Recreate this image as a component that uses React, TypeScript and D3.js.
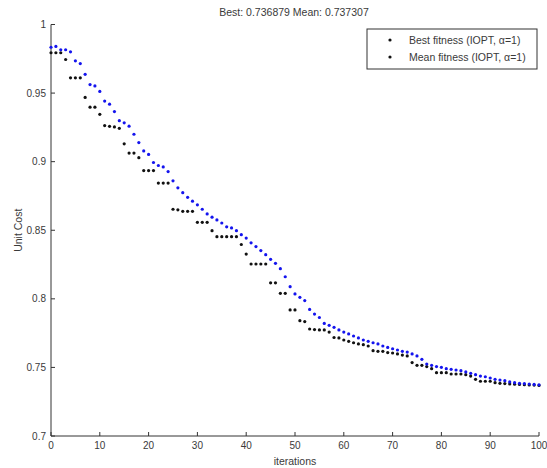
import React from "react";
import * as d3 from "d3";

const iterations: number[] = d3.range(0, 101);

const meanFitness: number[] = [
  0.9834, 0.984, 0.9816, 0.9816, 0.9801, 0.9735, 0.9715, 0.9637, 0.9562, 0.9552,
  0.9512, 0.9442, 0.9419, 0.9365, 0.9299, 0.9283, 0.9259, 0.92, 0.9139, 0.9078,
  0.9053, 0.8994, 0.8972, 0.8962, 0.8928, 0.886, 0.8809, 0.8774, 0.874, 0.8712,
  0.8685, 0.8653, 0.8619, 0.8595, 0.8575, 0.8553, 0.8525, 0.8517, 0.8497, 0.8468,
  0.8443, 0.8408, 0.8381, 0.8352, 0.8322, 0.8288, 0.8259, 0.822, 0.8161, 0.8089,
  0.8036, 0.8011, 0.7987, 0.7923, 0.7889, 0.7864, 0.7821, 0.7807, 0.7792, 0.7773,
  0.7758, 0.7744, 0.7729, 0.7715, 0.77, 0.769, 0.768, 0.7671, 0.7656, 0.7646,
  0.7636, 0.7627, 0.7617, 0.7612, 0.7598, 0.7584, 0.7559, 0.7525, 0.7515, 0.7506,
  0.7501, 0.7491, 0.7486, 0.7481, 0.7476, 0.7467, 0.7457, 0.7447, 0.7437, 0.7432,
  0.7423, 0.7413, 0.7408, 0.7403, 0.7394, 0.7389, 0.7384, 0.7382, 0.7379, 0.7376,
  0.7373,
];

const bestFitness: number[] = [
  0.9794, 0.9794, 0.9794, 0.9745, 0.9611, 0.9611, 0.9611, 0.9468, 0.9397, 0.9397,
  0.9345, 0.9263, 0.9258, 0.9253, 0.9243, 0.913, 0.9063, 0.9063, 0.9029, 0.8935,
  0.8935, 0.8935, 0.8844, 0.8844, 0.8844, 0.8653, 0.8649, 0.8638, 0.8638, 0.8638,
  0.8558, 0.8558, 0.8558, 0.8497, 0.8453, 0.8453, 0.8453, 0.8453, 0.8453, 0.8396,
  0.8326, 0.8254, 0.8254, 0.8254, 0.8254, 0.8117, 0.8117, 0.804, 0.804, 0.7919,
  0.7919, 0.7841, 0.7834, 0.778, 0.7776, 0.7773, 0.7773, 0.7758, 0.7718, 0.7715,
  0.77, 0.769, 0.768, 0.7671, 0.7666, 0.7656, 0.7622, 0.7617, 0.7617, 0.7608,
  0.7605, 0.7598, 0.759, 0.7584, 0.7535, 0.7515, 0.7515, 0.7506, 0.7491, 0.7462,
  0.7462, 0.7462, 0.7452, 0.7452, 0.7452, 0.7447, 0.7437, 0.7413, 0.7399, 0.7399,
  0.7399, 0.7389, 0.7384, 0.7382, 0.738, 0.7378, 0.7376, 0.7374, 0.7372, 0.7371,
  0.7369,
];

const xTicks: number[] = [0, 10, 20, 30, 40, 50, 60, 70, 80, 90, 100];
const yTicks: number[] = [0.7, 0.75, 0.8, 0.85, 0.9, 0.95, 1];
const titleText = "Best: 0.736879 Mean: 0.737307";
const legendLabels: string[] = ["Best fitness (IOPT, \u03b1=1)", "Mean fitness (IOPT, \u03b1=1)"];

const W = 547;
const H = 468;
const FONT = "'Liberation Sans', Arial, sans-serif";

export default function App() {
  const x = d3.scaleLinear().domain([0, 100]).range([51, 539]);
  const y = d3.scaleLinear().domain([0.7, 1]).range([436, 24.5]);
  const axisColor = "#333";
  const textColor = "#3a3a3a";

  return (
    <svg
      width={W}
      height={H}
      style={{ position: "absolute", left: 0, top: 0, background: "#fff" }}
      fontFamily={FONT}
    >
      <rect x={0} y={0} width={W} height={H} fill="#fff" />
      <text x={294} y={16} fontSize={10.5} textAnchor="middle" fill={textColor}>
        {titleText}
      </text>
      <line x1={x(0)} x2={x(0)} y1={y(1)} y2={y(0.7)} stroke={axisColor} strokeWidth={1} />
      <line x1={x(0)} x2={x(100)} y1={y(0.7)} y2={y(0.7)} stroke={axisColor} strokeWidth={1} />
      {yTicks.map((t) => (
        <g key={"y" + t}>
          <line x1={x(0)} x2={x(0) + 4} y1={y(t)} y2={y(t)} stroke={axisColor} />
          <text x={x(0) - 5} y={y(t) + 3.5} fontSize={10} textAnchor="end" fill={textColor}>
            {d3.format("")(t)}
          </text>
        </g>
      ))}
      {xTicks.map((t) => (
        <g key={"x" + t}>
          <line x1={x(t)} x2={x(t)} y1={y(0.7)} y2={y(0.7) - 4} stroke={axisColor} />
          <text x={x(t)} y={y(0.7) + 13} fontSize={10} textAnchor="middle" fill={textColor}>
            {t}
          </text>
        </g>
      ))}
      <text x={x(50)} y={465} fontSize={10.5} textAnchor="middle" fill={textColor}>
        iterations
      </text>
      <text
        transform={`translate(22, ${(y(1) + y(0.7)) / 2}) rotate(-90)`}
        fontSize={10.5}
        textAnchor="middle"
        fill={textColor}
      >
        Unit Cost
      </text>
      {iterations.map((it, i) => (
        <circle key={"b" + it} cx={x(it)} cy={y(bestFitness[i])} r={1.6} fill="#111" />
      ))}
      {iterations.map((it, i) => (
        <circle key={"m" + it} cx={x(it)} cy={y(meanFitness[i])} r={1.6} fill="#1414ee" />
      ))}
      <rect x={367} y={29} width={170} height={40} fill="#fff" stroke={axisColor} strokeWidth={1} />
      {legendLabels.map((lab, i) => (
        <g key={lab}>
          <circle cx={390} cy={40 + i * 17} r={1.6} fill="#111" />
          <text x={409} y={44 + i * 17} fontSize={10.5} fill={textColor}>
            {lab}
          </text>
        </g>
      ))}
    </svg>
  );
}
